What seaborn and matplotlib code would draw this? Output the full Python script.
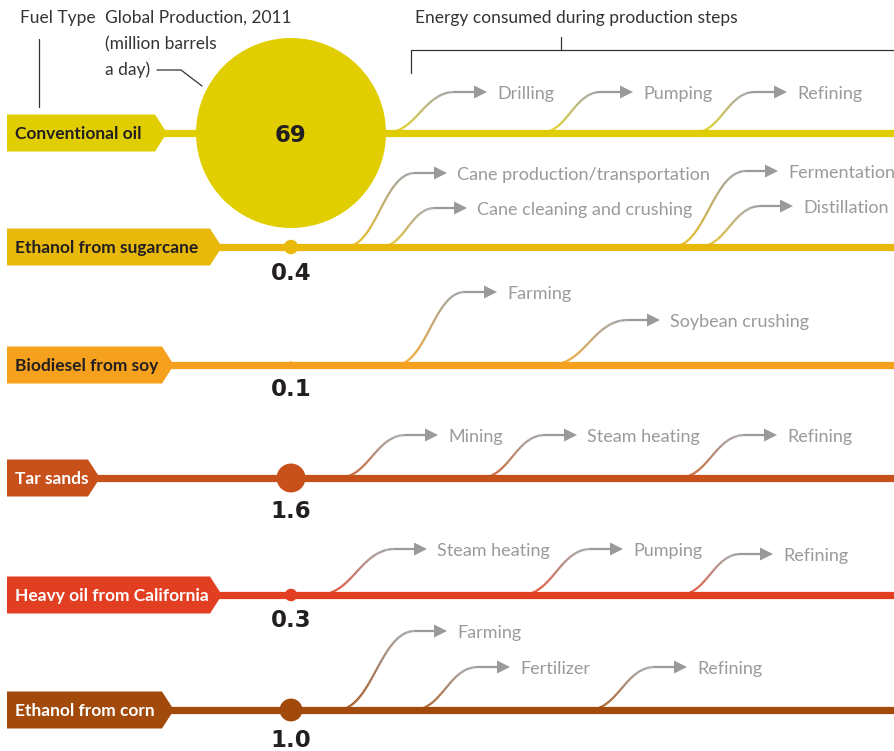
import numpy as np
import pandas as pd
import matplotlib
matplotlib.use("Agg")
import matplotlib.pyplot as plt
import seaborn as sns
from matplotlib.collections import LineCollection
from matplotlib.colors import to_rgb
from matplotlib.patches import Polygon

# data
fuels = ["Conventional oil", "Ethanol from sugarcane", "Biodiesel from soy",
         "Tar sands", "Heavy oil from California", "Ethanol from corn"]
production = [69, 0.4, 0.1, 1.6, 0.3, 1.0]
production_labels = ["69", "0.4", "0.1", "1.6", "0.3", "1.0"]
fuel_colors = ["#E0CE00", "#E8B90A", "#F5A11E", "#C8501A", "#E23E22", "#A24A0C"]
tag_text_colors = ["#231F20", "#231F20", "#231F20", "white", "white", "white"]
steps = [
    ["Drilling", "Pumping", "Refining"],
    ["Cane production/transportation", "Cane cleaning and crushing",
     "Fermentation", "Distillation"],
    ["Farming", "Soybean crushing"],
    ["Mining", "Steam heating", "Refining"],
    ["Steam heating", "Pumping", "Refining"],
    ["Farming", "Fertilizer", "Refining"],
]

# layout (pixels)
row_y = [133, 247, 365, 478, 595, 710]
tag_tip = [165, 220, 172, 98, 220, 172]
circle_x = 291
step_start = [[385, 540, 693], [345, 380, 672, 698], [395, 550],
              [338, 480, 678], [318, 521, 679], [337, 413, 588]]
step_tip = [[487, 633, 787], [447, 467, 778, 793], [497, 660],
            [438, 577, 777], [427, 623, 773], [447, 510, 687]]
step_rise = [[41, 41, 41], [74, 39, 76, 41], [73, 45],
             [43, 43, 43], [46, 46, 41], [79, 43, 43]]

W, H, DPI = 895, 751, 100
R_MAX = 95  # radius in px of the biggest circle

sns.set_theme(style="white")
plt.rcParams["font.family"] = ["Lato", "DejaVu Sans"]

fig = plt.figure(figsize=(W / DPI, H / DPI), dpi=DPI)
ax = fig.add_axes([0, 0, 1, 1])
ax.set_xlim(0, W)
ax.set_ylim(H, 0)
ax.axis("off")

gray = np.array(to_rgb("#9A9A9A"))
step_color = "#9A9A9A"


def draw_arrow(x0, tip, y0, rise, color):
    base = np.array(to_rgb(color))
    x1 = tip - 32
    t = np.linspace(0, 1, 80)
    # cubic bezier with horizontal tangents at both ends
    p0, p1, p2, p3 = (x0, y0), (x0 + (x1 - x0) * 0.45, y0), (x0 + (x1 - x0) * 0.55, y0 - rise), (x1, y0 - rise)
    bx = (1 - t) ** 3 * p0[0] + 3 * (1 - t) ** 2 * t * p1[0] + 3 * (1 - t) * t ** 2 * p2[0] + t ** 3 * p3[0]
    by = (1 - t) ** 3 * p0[1] + 3 * (1 - t) ** 2 * t * p1[1] + 3 * (1 - t) * t ** 2 * p2[1] + t ** 3 * p3[1]
    bx = np.append(bx, tip - 11)
    by = np.append(by, y0 - rise)
    pts = np.column_stack([bx, by])
    segs = np.stack([pts[:-1], pts[1:]], axis=1)
    frac = np.clip((y0 - segs[:, :, 1].mean(axis=1)) / rise, 0, 1)
    cols = base[None, :] * (1 - frac[:, None]) + gray[None, :] * frac[:, None]
    ax.add_collection(LineCollection(segs, colors=cols, linewidths=1.6,
                                     capstyle="butt", zorder=2))
    yt = y0 - rise
    ax.add_patch(Polygon([(tip - 13, yt - 6.5), (tip, yt), (tip - 13, yt + 6.5)],
                         closed=True, color=step_color, lw=0, zorder=2))


for i, fuel in enumerate(fuels):
    y = row_y[i]
    c = fuel_colors[i]
    # main line
    ax.plot([tag_tip[i] - 2, W], [y, y], color=c, lw=5.2,
            solid_capstyle="butt", zorder=1)
    # fuel tag
    tip = tag_tip[i]
    ax.add_patch(Polygon([(7, y - 18.5), (tip - 10, y - 18.5), (tip, y - 3),
                          (tip, y + 3), (tip - 10, y + 18.5), (7, y + 18.5)],
                         closed=True, color=c, lw=0, zorder=3))
    ax.text(15, y + 1, fuel, color=tag_text_colors[i], fontsize=12.5,
            fontweight="bold", va="center", ha="left", zorder=4)
    # production steps
    for j, step in enumerate(steps[i]):
        draw_arrow(step_start[i][j], step_tip[i][j], y, step_rise[i][j], c)
        ax.text(step_tip[i][j] + 10, y - step_rise[i][j] + 2, step,
                color=step_color, fontsize=13, va="center", ha="left")

# production circles, area proportional to value
circles = pd.DataFrame({"fuel": fuels, "production": production,
                        "x": [circle_x] * len(fuels), "y": row_y})
s_max = (2 * R_MAX * 72 / DPI) ** 2
sns.scatterplot(data=circles, x="x", y="y", size="production", hue="fuel",
                palette=dict(zip(fuels, fuel_colors)), sizes=(0, s_max),
                size_norm=(0, max(production)), linewidth=0, legend=False,
                ax=ax, zorder=5)
ax.set_xlim(0, W)
ax.set_ylim(H, 0)
ax.axis("off")

for i, lab in enumerate(production_labels):
    r = R_MAX * np.sqrt(production[i] / max(production))
    if r > 40:
        ty = row_y[i] + 3
    else:
        ty = row_y[i] + max(r, 6) + 19
    ax.text(circle_x, ty, lab, color="#231F20", fontsize=16.5, fontweight="bold",
            family="DejaVu Sans", ha="center", va="center", zorder=6)

# headers
hdr = "#333333"
ax.text(20, 18, "Fuel Type", color=hdr, fontsize=12.5, va="center")
ax.plot([39, 39], [39, 107], color=hdr, lw=0.9)
ax.text(105, 18, "Global Production, 2011", color=hdr, fontsize=12.5, va="center")
ax.text(105, 44, "(million barrels", color=hdr, fontsize=12.5, va="center")
ax.text(105, 70, "a day)", color=hdr, fontsize=12.5, va="center")
ax.plot([157, 181, 202], [70, 70, 86], color=hdr, lw=0.9)
ax.text(415, 18, "Energy consumed during production steps", color=hdr,
        fontsize=12.5, va="center")
ax.plot([411, 411, W], [73, 50, 50], color=hdr, lw=0.9)
ax.plot([561, 561], [37, 50], color=hdr, lw=0.9)

fig.savefig("out.png", dpi=DPI)
